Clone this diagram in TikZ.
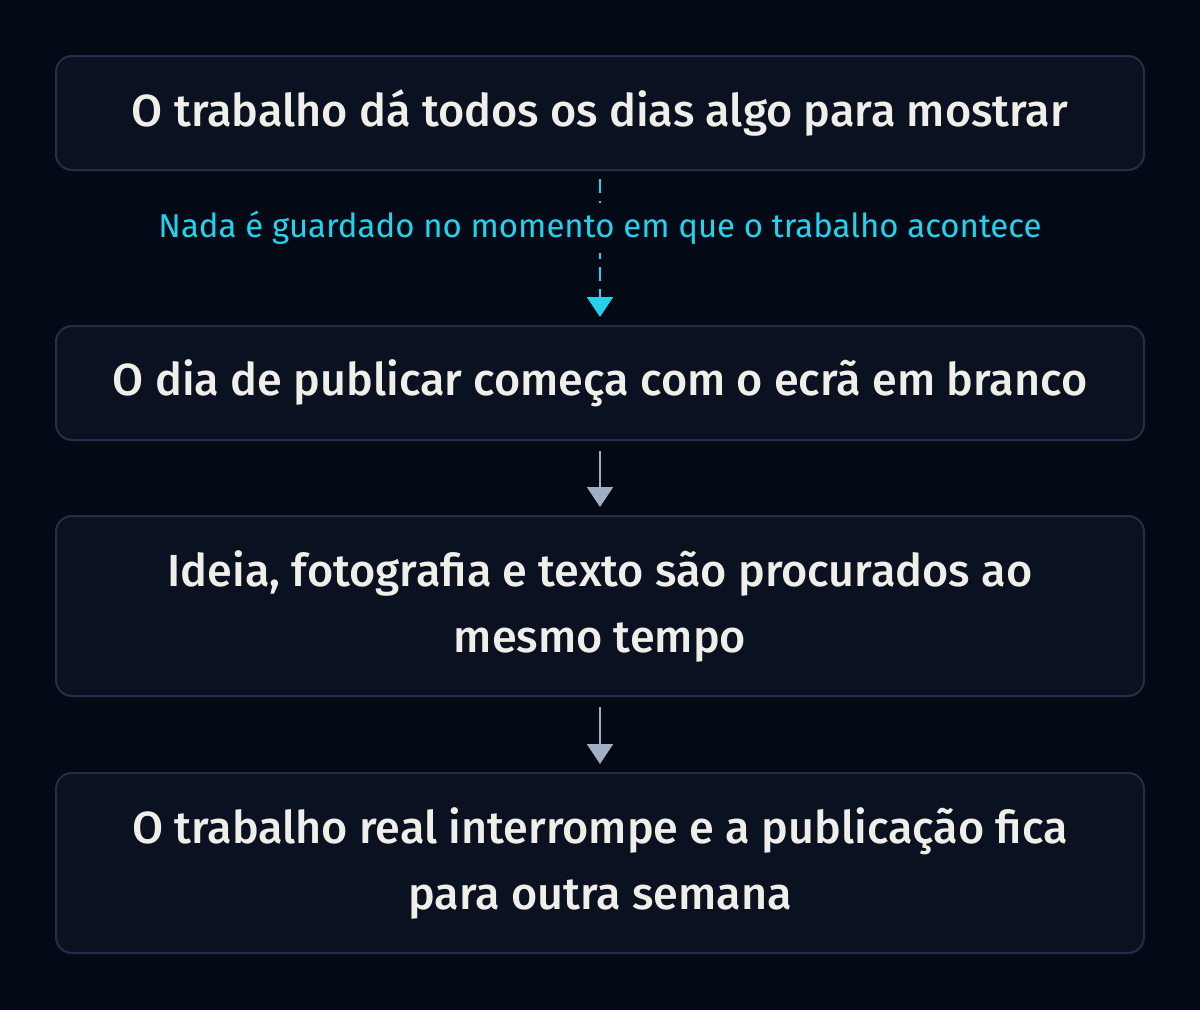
\documentclass[tikz,border=0pt]{standalone}
\usepackage{fontspec}
\setmainfont{Fira Sans}
\newfontfamily\boxfont{Fira Sans Medium}
\usetikzlibrary{arrows.meta}
\definecolor{bg}{RGB}{4,9,22}
\definecolor{boxfill}{RGB}{10,17,32}
\definecolor{boxline}{RGB}{36,46,74}
\definecolor{txt}{RGB}{240,238,232}
\definecolor{cyanc}{RGB}{34,211,238}
\definecolor{grayc}{RGB}{160,174,196}
\tikzset{
  stepbox/.style={draw=boxline, line width=2pt, fill=boxfill, rounded corners=16pt,
    minimum width=1088pt, text=txt, align=center, inner sep=0pt,
    font=\boxfont\fontsize{45}{66}\selectfont},
  flow/.style={-{Triangle[width=26pt,length=20pt]}, line width=2.5pt, draw=grayc,
    shorten <=10pt, shorten >=8pt},
  dflow/.style={-{Triangle[width=26pt,length=20pt]}, line width=2.5pt, draw=cyanc,
    dash pattern=on 14pt off 8pt, shorten <=8pt, shorten >=8pt},
  lbl/.style={fill=bg, text=cyanc, inner sep=8pt, font=\fontsize{33}{38}\selectfont}
}
\begin{document}
\begin{tikzpicture}[x=1pt,y=1pt]
\fill[bg] (0,0) rectangle (1200,-1010);
\useasboundingbox (0,0) rectangle (1200,-1010);
\node[stepbox, minimum height=114pt] (b1) at (600,-113) {O trabalho dá todos os dias algo para mostrar};
\node[stepbox, minimum height=114pt] (b2) at (600,-383) {O dia de publicar começa com o ecrã em branco};
\node[stepbox, minimum height=180pt] (b3) at (600,-606) {Ideia, fotografia e texto são procurados ao\\mesmo tempo};
\node[stepbox, minimum height=180pt] (b4) at (600,-863) {O trabalho real interrompe e a publicação fica\\para outra semana};
\draw[dflow] (b1) -- (b2);
\node[lbl] (l1) at (600,-228) {Nada é guardado no momento em que o trabalho acontece};
\draw[flow] (b2) -- (b3);
\draw[flow] (b3) -- (b4);
\end{tikzpicture}
\end{document}
